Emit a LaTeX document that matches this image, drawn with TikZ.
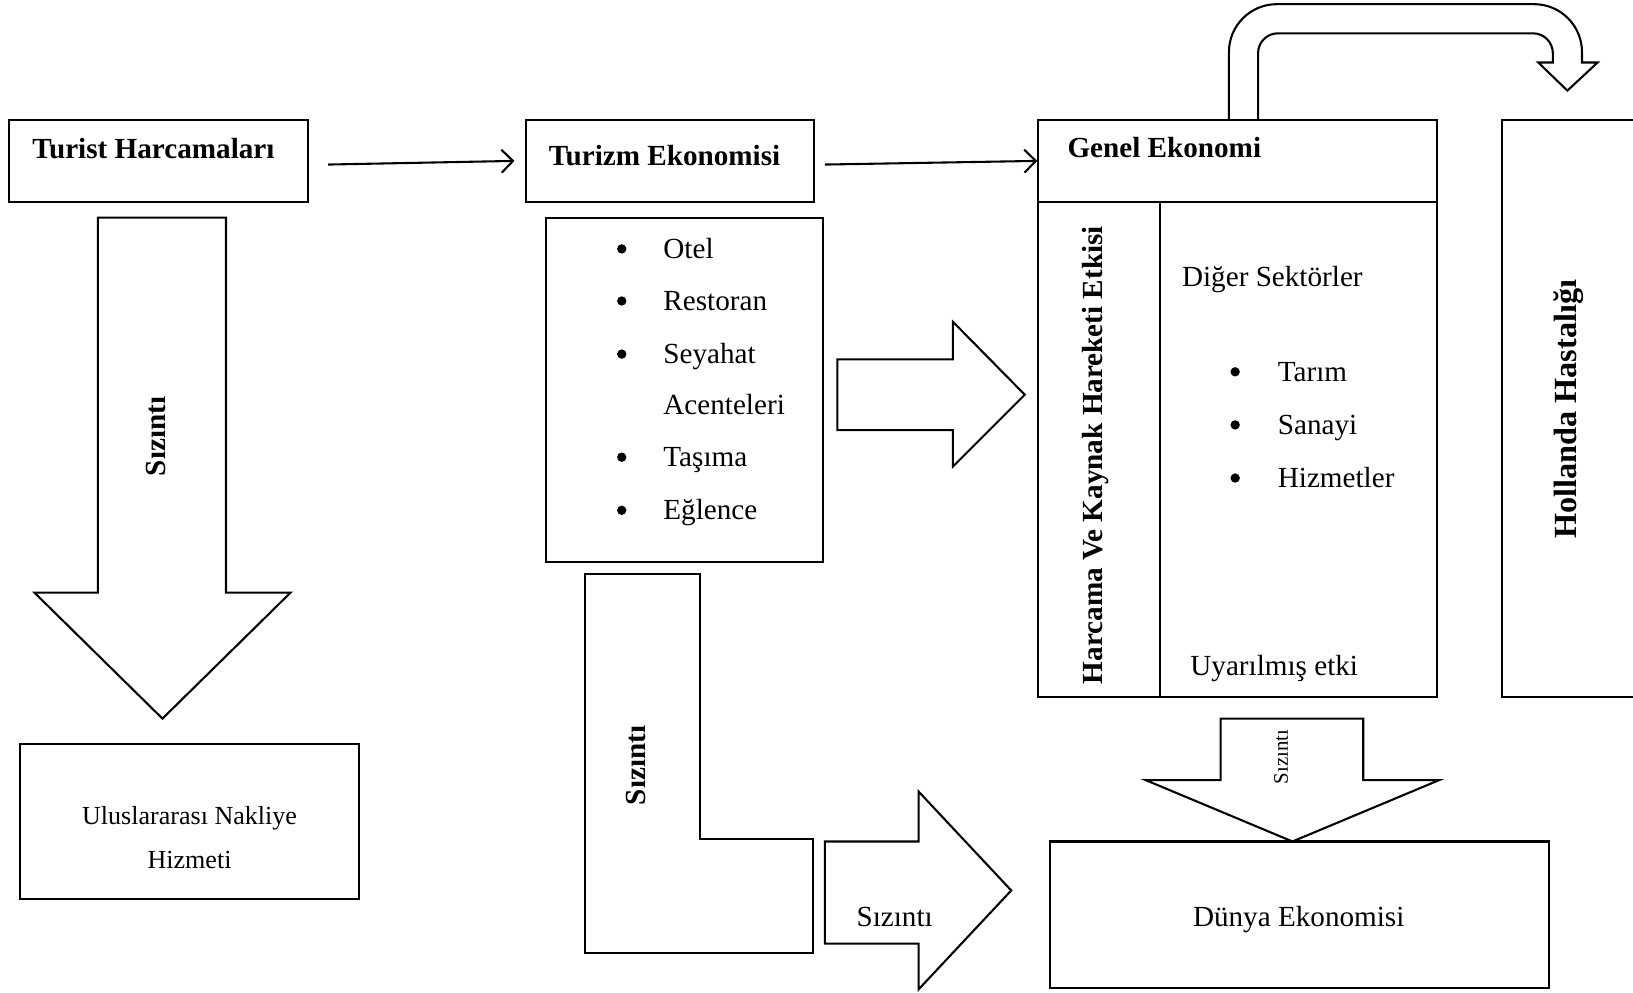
\documentclass[tikz,border=0pt]{standalone}
\usepackage{fontspec}
\setmainfont{Liberation Serif}
\usetikzlibrary{arrows.meta}
\begin{document}
\begin{tikzpicture}[x=1pt,y=-1pt,
  line width=2pt, line join=miter,
  box/.style={draw, line width=2pt, inner sep=0pt},
  txt/.style={inner sep=0pt, text height=18.5pt, text depth=0pt, font=\fontsize{28}{34}\selectfont},
  btxt/.style={inner sep=0pt, text height=18.5pt, text depth=0pt, font=\fontsize{28}{34}\selectfont\bfseries},
  bul/.style={circle, fill=black, inner sep=0pt, minimum size=9pt},
  conn/.style={line width=2pt, -{Straight Barb[length=11pt,width=22pt,line width=2pt]}}
]
\useasboundingbox (0,0) rectangle (1568,953);
% boxes
\draw[box] (9,115) rectangle (296,194);
\node (th) at (152.5,154.5) [minimum width=287pt, minimum height=79pt] {};
\node[btxt, anchor=west] (thT) at (30,143) {Turist Harcamaları};

\draw[box] (505,115) rectangle (782,194);
\node (te) at (643.5,154.5) [minimum width=277pt, minimum height=79pt] {};
\node[btxt, anchor=west] (teT) at (526,150) {Turizm Ekonomisi};

\draw[box] (997,115) rectangle (1380,669);
\draw[box] (997,194) -- (1380,194);
\draw[box] (1114,194) -- (1114,669);
\node (ge) at (1188.5,154.5) [minimum width=383pt, minimum height=79pt] {};
\node[btxt, anchor=west] (geT) at (1024,142) {Genel Ekonomi};

\draw[box] (1575,115) -- (1442,115) -- (1442,669) -- (1575,669);
\node[btxt, font=\fontsize{31}{36}\selectfont\bfseries, rotate=90] (hh) at (1504,393) {Hollanda Hastalığı};

% connectors
\draw[conn] ([xshift=18pt,yshift=-3.5pt]th.east) -- ([xshift=-10pt]te.west);
\draw[conn] ([xshift=9pt,yshift=-3.5pt]te.east) -- (ge.west);

% curved block arrow
\draw (1180,115) -- (1180,50) arc[start angle=180,end angle=270,radius=46] -- (1473,4)
  arc[start angle=270,end angle=360,radius=46] -- (1519,60) -- (1534,60) -- (1505,87)
  -- (1477,60) -- (1491,60) -- (1491,51) arc[start angle=0,end angle=-90,radius=19]
  -- (1227,32) arc[start angle=-90,end angle=-180,radius=19] -- (1208,115);

% left big down arrow
\draw (94,209) -- (217,209) -- (217,569) -- (279,569) -- (156,690) -- (33,569) -- (94,569) -- cycle;
\node[btxt, rotate=90] (s1) at (150,419) {Sızıntı};

\draw[box] (19,714) rectangle (345,863);
\node[txt, text height=17pt, font=\fontsize{25}{30}\selectfont] (un1) at (182,783) {Uluslararası Nakliye};
\node[txt, text height=17pt, font=\fontsize{25}{30}\selectfont] (un2) at (182,825) {Hizmeti};

% list box
\draw[box] (524,209) rectangle (790,540);
\foreach \y/\t in {239/Otel,289/Restoran,340/Seyahat,439/Taşıma,490/Eğlence}{
  \node[bul] at (597,\y) {};
  \node[txt, anchor=west] at (636,\y) {\t};
}
\node[txt, anchor=west] (ac) at (636,389) {Acenteleri};

% middle right arrow
\draw (804,345) -- (915,345) -- (915,309) -- (984,379) -- (915,448) -- (915,413) -- (804,413) -- cycle;

% L shape
\draw (562,551) -- (672,551) -- (672,806) -- (781,806) -- (781,915) -- (562,915) -- cycle;
\node[btxt, rotate=90] (s2) at (611,735) {Sızıntı};

% lower right arrow
\draw (792,808) -- (882,808) -- (882,760) -- (971,855) -- (882,950) -- (882,906) -- (792,906) -- cycle;
\node[txt] (s3) at (859,880) {Sızıntı};

% Dünya
\draw[box] (1008,808) rectangle (1487,949);
\node[txt] (de) at (1247,880) {Dünya Ekonomisi};

% small down arrow
\draw (1172,690) -- (1309,690) -- (1309,749) -- (1382,749) -- (1241,808) -- (1100,749) -- (1172,749) -- cycle;
\node[txt, text height=13pt, font=\fontsize{20}{24}\selectfont, rotate=90] (s4) at (1230,727) {Sızıntı};

% Genel Ekonomi interior
\node[btxt, rotate=90] (hk) at (1049,437) {Harcama Ve Kaynak Hareketi Etkisi};
\node[txt, anchor=west] (ds) at (1134,266) {Diğer Sektörler};
\foreach \y/\t in {357/Tarım,408/Sanayi,459/Hizmetler}{
  \node[bul] at (1186,\y) {};
  \node[txt, anchor=west] at (1226,\y) {\t};
}
\node[txt, anchor=west] (ue) at (1142,639) {Uyarılmış etki};
\end{tikzpicture}
\end{document}
